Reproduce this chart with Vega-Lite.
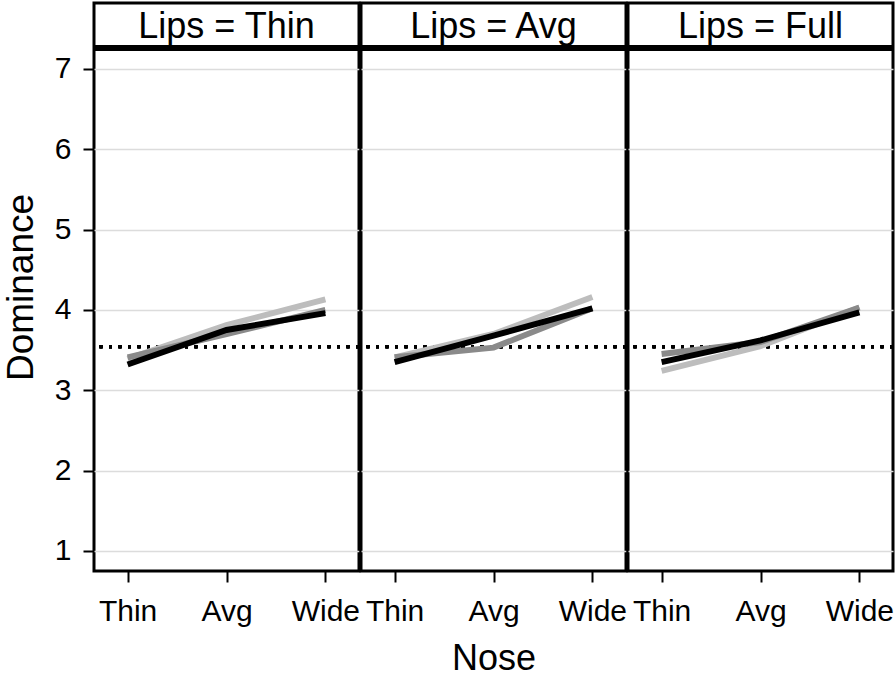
{
  "$schema": "https://vega.github.io/schema/vega-lite/v6.json",
  "padding": {"left": 2, "top": 1, "right": 2, "bottom": 3},
  "background": "white",
  "bounds": "flush",
  "config": {
    "font": "Liberation Sans",
    "view": {"stroke": "black", "strokeWidth": 3},
    "axis": {
      "labelColor": "black", "titleColor": "black",
      "labelFont": "Liberation Sans", "titleFont": "Liberation Sans",
      "labelFontSize": 30, "titleFontSize": 37, "titleFontWeight": "normal",
      "tickColor": "black", "tickWidth": 2, "tickSize": 11,
      "domain": false
    },
    "header": {
      "titleFont": "Liberation Sans", "titleFontSize": 36, "titleColor": "black", "titleFontWeight": "normal"
    }
  },
  "data": {
    "values": [
      {"Lips": "Thin", "Nose": "Thin", "Group": "G1", "Dominance": 3.39},
      {"Lips": "Thin", "Nose": "Avg", "Group": "G1", "Dominance": 3.81},
      {"Lips": "Thin", "Nose": "Wide", "Group": "G1", "Dominance": 4.13},
      {"Lips": "Thin", "Nose": "Thin", "Group": "G2", "Dominance": 3.41},
      {"Lips": "Thin", "Nose": "Avg", "Group": "G2", "Dominance": 3.70},
      {"Lips": "Thin", "Nose": "Wide", "Group": "G2", "Dominance": 4.00},
      {"Lips": "Thin", "Nose": "Thin", "Group": "G3", "Dominance": 3.32},
      {"Lips": "Thin", "Nose": "Avg", "Group": "G3", "Dominance": 3.75},
      {"Lips": "Thin", "Nose": "Wide", "Group": "G3", "Dominance": 3.96},
      {"Lips": "Avg", "Nose": "Thin", "Group": "G1", "Dominance": 3.41},
      {"Lips": "Avg", "Nose": "Avg", "Group": "G1", "Dominance": 3.70},
      {"Lips": "Avg", "Nose": "Wide", "Group": "G1", "Dominance": 4.16},
      {"Lips": "Avg", "Nose": "Thin", "Group": "G2", "Dominance": 3.41},
      {"Lips": "Avg", "Nose": "Avg", "Group": "G2", "Dominance": 3.53},
      {"Lips": "Avg", "Nose": "Wide", "Group": "G2", "Dominance": 4.02},
      {"Lips": "Avg", "Nose": "Thin", "Group": "G3", "Dominance": 3.35},
      {"Lips": "Avg", "Nose": "Avg", "Group": "G3", "Dominance": 3.68},
      {"Lips": "Avg", "Nose": "Wide", "Group": "G3", "Dominance": 4.02},
      {"Lips": "Full", "Nose": "Thin", "Group": "G1", "Dominance": 3.24},
      {"Lips": "Full", "Nose": "Avg", "Group": "G1", "Dominance": 3.55},
      {"Lips": "Full", "Nose": "Wide", "Group": "G1", "Dominance": 4.03},
      {"Lips": "Full", "Nose": "Thin", "Group": "G2", "Dominance": 3.45},
      {"Lips": "Full", "Nose": "Avg", "Group": "G2", "Dominance": 3.60},
      {"Lips": "Full", "Nose": "Wide", "Group": "G2", "Dominance": 4.03},
      {"Lips": "Full", "Nose": "Thin", "Group": "G3", "Dominance": 3.35},
      {"Lips": "Full", "Nose": "Avg", "Group": "G3", "Dominance": 3.62},
      {"Lips": "Full", "Nose": "Wide", "Group": "G3", "Dominance": 3.97}
    ]
  },
  "facet": {
    "column": {
      "field": "Lips", "type": "nominal", "sort": ["Thin", "Avg", "Full"],
      "header": {"title": "Nose", "titleOrient": "bottom", "titlePadding": 6, "labels": false}
    }
  },
  "spacing": 2,
  "spec": {
    "width": 265,
    "height": 568,
    "encoding": {
      "y": {
        "type": "quantitative",
        "scale": {"domain": [0.75, 7.82], "nice": false, "zero": false},
        "axis": {
          "values": [1, 2, 3, 4, 5, 6, 7], "grid": true,
          "gridColor": "#dcdcdc", "gridWidth": 1.5,
          "labelPadding": 12, "titlePadding": 14, "title": "Dominance"
        }
      }
    },
    "layer": [
      {
        "transform": [
          {"aggregate": [{"op": "count", "as": "n"}], "groupby": ["Lips"]},
          {"calculate": "'Lips = ' + datum.Lips", "as": "label"}
        ],
        "mark": {"type": "text", "fontSize": 36, "color": "black", "baseline": "middle", "font": "Liberation Sans", "dy": 1},
        "encoding": {
          "y": {"datum": 7.535, "type": "quantitative"},
          "text": {"field": "label", "type": "nominal"}
        }
      },
      {
        "mark": {"type": "rule", "color": "black", "strokeWidth": 5},
        "encoding": {
          "y": {"datum": 7.26, "type": "quantitative"}
        }
      },
      {
        "mark": {"type": "rule", "color": "black", "strokeWidth": 3, "strokeDash": [3, 6.5]},
        "encoding": {
          "y": {"datum": 3.54, "type": "quantitative"}
        }
      },
      {
        "mark": {"type": "line", "strokeWidth": 6},
        "encoding": {
          "x": {
            "field": "Nose", "type": "ordinal", "sort": ["Thin", "Avg", "Wide"],
            "scale": {"type": "point", "padding": 0.34},
            "axis": {"labelAngle": 0, "grid": false, "labelPadding": 14, "title": null}
          },
          "y": {"field": "Dominance", "type": "quantitative"},
          "color": {
            "field": "Group", "type": "nominal",
            "scale": {"domain": ["G1", "G2", "G3"], "range": ["#bdbdbd", "#8a8a8a", "#000000"]},
            "legend": null
          }
        }
      }
    ]
  }
}
